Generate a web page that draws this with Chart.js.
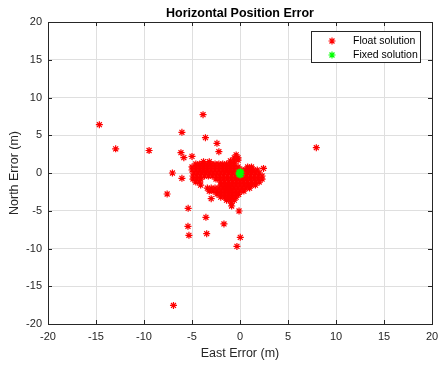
<!DOCTYPE html>
<html>
<head>
<meta charset="utf-8">
<script src="https://cdn.jsdelivr.net/npm/chart.js@4.4.0/dist/chart.umd.min.js"></script>
<style>
    body { margin: 0; background: #fff; }
    canvas { display: block; }
</style>
</head>
<body>
<canvas id="graficaError" width="441" height="367"></canvas>
<script>
// ticks de los dos ejes (m)
const ticksEste = [-20, -15, -10, -5, 0, 5, 10, 15, 20];
const ticksNorte = [-20, -15, -10, -5, 0, 5, 10, 15, 20];

// solucion float: puntos sueltos [este, norte]
const floatSueltos = [
    [-14.65, 6.4], [-12.95, 3.2], [-9.47, 2.98], [-3.85, 7.72], [-6.05, 5.39],
    [-3.6, 4.68], [-2.4, 3.93], [-2.2, 2.82], [-6.15, 2.69], [-5.85, 2.03],
    [-5.0, 2.2], [-7.04, 0.0], [-6.05, -0.7], [-7.59, -2.78], [2.45, 0.6],
    [-5.4, -4.68], [-3.55, -5.87], [-1.67, -6.75], [-5.42, -7.06], [-5.32, -8.25],
    [-3.47, -8.04], [0.03, -8.52], [-0.32, -9.72], [-0.1, -5.03], [-0.87, -4.37],
    [-3.0, -3.4], [-0.14, -2.82], [7.95, 3.35], [-6.93, -17.54]
];

// solucion float: nube principal cerca del origen [este, norte]
const floatNube = [
    [-0.4, 2.4],
    [-0.6, 2.0], [-0.2, 2.0],
    [-3.8, 1.5], [-3.2, 1.5], [-1.0, 1.6], [-0.6, 1.6], [-0.2, 1.7],
    [-4.6, 1.2], [-4.2, 1.2], [-3.8, 1.2], [-3.4, 1.2], [-3.0, 1.2], [-2.6, 1.2],
    [-2.2, 1.2], [-1.8, 1.2], [-1.4, 1.2], [-1.0, 1.2], [-0.6, 1.2],
    [-5.0, 0.8], [-4.6, 0.8], [-4.2, 0.8], [-3.8, 0.8], [-3.4, 0.8], [-3.0, 0.8],
    [-2.6, 0.8], [-2.2, 0.8], [-1.8, 0.8], [-1.4, 0.8], [-1.0, 0.8], [-0.6, 0.8],
    [-0.2, 0.8], [0.8, 0.8], [1.2, 0.8],
    [-5.0, 0.4], [-4.6, 0.4], [-4.2, 0.4], [-3.8, 0.4], [-3.4, 0.4], [-3.0, 0.4],
    [-2.6, 0.4], [-2.2, 0.4], [-1.8, 0.4], [-1.4, 0.4], [-1.0, 0.4], [-0.6, 0.4],
    [-0.2, 0.4], [0.2, 0.4], [0.6, 0.4], [1.0, 0.4], [1.4, 0.4], [1.8, 0.4],
    [-4.8, 0.0], [-4.4, 0.0], [-4.0, 0.0], [-3.6, 0.0], [-3.2, 0.0], [-2.8, 0.0],
    [-2.4, 0.0], [-2.0, 0.0], [-1.6, 0.0], [-1.2, 0.0], [-0.8, 0.0], [-0.4, 0.0],
    [0.4, 0.0], [0.8, 0.0], [1.2, 0.0], [1.6, 0.0], [2.0, 0.0],
    [-4.9, -0.4], [-4.5, -0.4], [-4.1, -0.4], [-3.7, -0.4], [-3.3, -0.4], [-2.9, -0.4],
    [-2.5, -0.4], [-2.1, -0.4], [-1.7, -0.4], [-1.3, -0.4], [-0.9, -0.4], [-0.5, -0.4],
    [-0.1, -0.4], [0.3, -0.4], [0.7, -0.4], [1.1, -0.4], [1.5, -0.4], [1.9, -0.4], [2.3, -0.4],
    [-4.9, -0.8], [-4.5, -0.8], [-4.1, -0.8], [-2.5, -0.8], [-2.1, -0.8], [-1.7, -0.8],
    [-1.3, -0.8], [-0.9, -0.8], [-0.5, -0.8], [-0.1, -0.8], [0.3, -0.8], [0.7, -0.8],
    [1.1, -0.8], [1.5, -0.8], [1.9, -0.8], [2.3, -0.8],
    [-4.6, -1.2], [-4.2, -1.2], [-2.0, -1.2], [-1.6, -1.2], [-1.2, -1.2], [-0.8, -1.2],
    [-0.4, -1.2], [0.0, -1.2], [0.4, -1.2], [0.8, -1.2], [1.2, -1.2], [1.6, -1.2], [2.0, -1.2],
    [-4.1, -1.6], [-2.0, -1.6], [-1.6, -1.6], [-1.2, -1.6], [-0.8, -1.6], [-0.4, -1.6],
    [0.0, -1.6], [0.4, -1.6], [0.8, -1.6], [1.2, -1.6], [1.6, -1.6],
    [-3.4, -2.0], [-3.0, -2.0], [-2.6, -2.0], [-2.2, -2.0], [-1.8, -2.0], [-1.4, -2.0],
    [-1.0, -2.0], [-0.6, -2.0], [-0.2, -2.0], [0.2, -2.0], [0.6, -2.0], [1.0, -2.0],
    [-3.2, -2.4], [-2.8, -2.4], [-2.4, -2.4], [-2.0, -2.4], [-1.6, -2.4], [-1.2, -2.4],
    [-0.8, -2.4], [-0.4, -2.4], [0.0, -2.4], [0.4, -2.4],
    [-2.4, -2.8], [-2.0, -2.8], [-1.6, -2.8], [-1.2, -2.8], [-0.8, -2.8], [-0.4, -2.8],
    [-2.0, -3.2], [-1.6, -3.2], [-1.2, -3.2], [-0.8, -3.2], [-0.4, -3.2],
    [-1.4, -3.6], [-1.0, -3.6], [-0.6, -3.6],
    [-0.9, -4.0]
];

// solucion fixed [este, norte]
const fixedPuntos = [
    [0.0, 0.0], [-0.1, 0.1], [0.1, 0.1], [-0.1, -0.15], [0.1, -0.2],
    [0.0, -0.25], [0.05, 0.15], [-0.05, -0.05]
];

const fuente = "'Liberation Sans', Arial, sans-serif";
const gris = "#262626";

function aPuntos(lista) {
    return lista.map(p => ({ x: p[0], y: p[1] }));
}

function dibujarEstrella(ctx, x, y, r) {
    ctx.beginPath();
    ctx.moveTo(x - r, y); ctx.lineTo(x + r, y);
    ctx.moveTo(x, y - r); ctx.lineTo(x, y + r);
    const d = r * Math.SQRT1_2;
    ctx.moveTo(x - d, y - d); ctx.lineTo(x + d, y + d);
    ctx.moveTo(x - d, y + d); ctx.lineTo(x + d, y - d);
    ctx.stroke();
}

// caja, ticks hacia dentro y leyenda como en matlab
const ejesMatlab = {
    id: "ejesMatlab",
    afterDatasetsDraw(chart) {
        const { ctx, chartArea: a, scales } = chart;
        ctx.save();
        ctx.strokeStyle = gris;
        ctx.lineWidth = 1;
        ctx.beginPath();
        ticksEste.forEach(v => {
            const x = Math.round(scales.x.getPixelForValue(v)) + 0.5;
            ctx.moveTo(x, a.bottom); ctx.lineTo(x, a.bottom - 4);
            ctx.moveTo(x, a.top); ctx.lineTo(x, a.top + 4);
        });
        ticksNorte.forEach(v => {
            const y = Math.round(scales.y.getPixelForValue(v)) + 0.5;
            ctx.moveTo(a.left, y); ctx.lineTo(a.left + 4, y);
            ctx.moveTo(a.right, y); ctx.lineTo(a.right - 4, y);
        });
        ctx.stroke();
        ctx.strokeRect(Math.round(a.left) + 0.5, Math.round(a.top) + 0.5,
            Math.round(a.right - a.left), Math.round(a.bottom - a.top));

        // leyenda
        ctx.fillStyle = "#fff";
        ctx.fillRect(311.5, 31.5, 109, 31);
        ctx.strokeRect(311.5, 31.5, 109, 31);
        const items = chart.data.datasets.slice().sort((p, q) => q.order - p.order);
        items.forEach((ds, i) => {
            const y = 41 + i * 14;
            ctx.strokeStyle = ds.borderColor;
            ctx.lineWidth = 1.2;
            dibujarEstrella(ctx, 332, y, 3.5);
            ctx.fillStyle = "#000";
            ctx.font = "10.5px " + fuente;
            ctx.textAlign = "left";
            ctx.textBaseline = "middle";
            ctx.fillText(ds.label, 353, y + 0.5);
        });
        ctx.restore();
    }
};

const ctx = document.getElementById("graficaError").getContext("2d");

new Chart(ctx, {
    type: "scatter",
    data: {
        datasets: [
            {
                label: "Float solution",
                data: aPuntos(floatSueltos.concat(floatNube)),
                borderColor: "#ff0000",
                backgroundColor: "#ff0000",
                pointStyle: "star",
                pointRadius: 3.5,
                pointHoverRadius: 3.5,
                borderWidth: 1.2,
                order: 1
            },
            {
                label: "Fixed solution",
                data: aPuntos(fixedPuntos),
                borderColor: "#00ff00",
                backgroundColor: "#00ff00",
                pointStyle: "star",
                pointRadius: 3.5,
                pointHoverRadius: 3.5,
                borderWidth: 1.2,
                order: 0
            }
        ]
    },
    options: {
        responsive: false,
        animation: false,
        layout: { padding: { left: 0, right: 9, top: 0, bottom: 0 } },
        plugins: {
            legend: { display: false },
            tooltip: { enabled: false },
            title: {
                display: true,
                text: "Horizontal Position Error",
                fullSize: false,
                color: "#000",
                font: { family: fuente, size: 12.5, weight: "bold" },
                padding: { top: 6, bottom: 1 }
            }
        },
        scales: {
            x: {
                type: "linear",
                min: -20,
                max: 20,
                afterFit: s => { s.height = 43; s.paddingLeft = 0; s.paddingRight = 0; },
                afterBuildTicks: s => { s.ticks = ticksEste.map(v => ({ value: v })); },
                border: { display: false },
                grid: { color: "#dfdfdf", drawTicks: false },
                ticks: {
                    color: gris,
                    padding: 6,
                    maxRotation: 0,
                    font: { family: fuente, size: 11 }
                },
                title: {
                    display: true,
                    text: "East Error (m)",
                    color: gris,
                    font: { family: fuente, size: 12.5 },
                    padding: { top: 0, bottom: 5.5 }
                }
            },
            y: {
                type: "linear",
                min: -20,
                max: 20,
                afterFit: s => { s.width = 48; s.paddingTop = 0; s.paddingBottom = 0; },
                afterBuildTicks: s => { s.ticks = ticksNorte.map(v => ({ value: v })); },
                border: { display: false },
                grid: { color: "#dfdfdf", drawTicks: false },
                ticks: {
                    color: gris,
                    padding: 6,
                    font: { family: fuente, size: 11 }
                },
                title: {
                    display: true,
                    text: "North Error (m)",
                    color: gris,
                    font: { family: fuente, size: 12.5 },
                    padding: { top: 7.5, bottom: 0 }
                }
            }
        }
    },
    plugins: [ejesMatlab]
});
</script>
</body>
</html>
